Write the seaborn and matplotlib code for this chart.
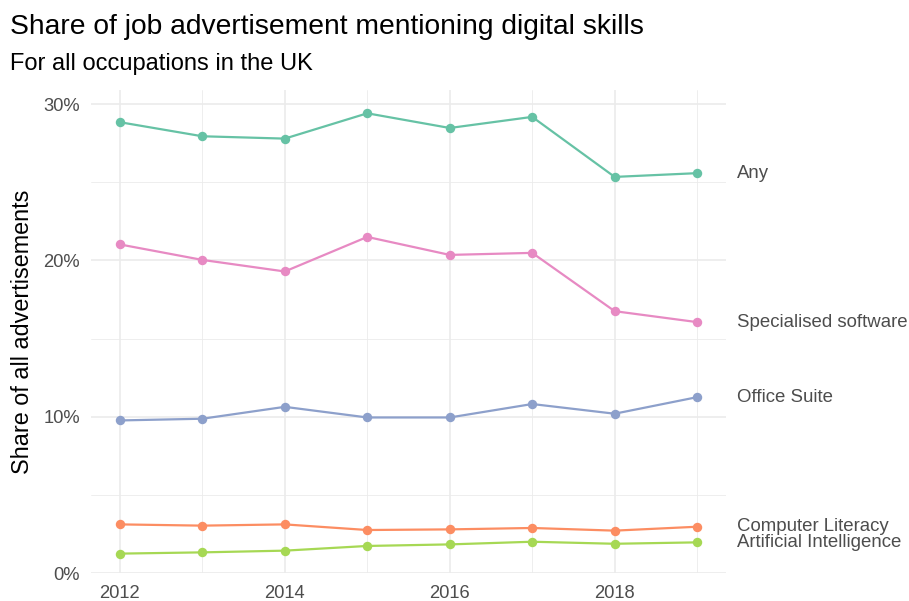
import matplotlib
matplotlib.use("Agg")
import matplotlib.pyplot as plt
import seaborn as sns
import pandas as pd
import numpy as np
from matplotlib.ticker import MultipleLocator, FuncFormatter

years = [2012, 2013, 2014, 2015, 2016, 2017, 2018, 2019]
any_skill = [28.84, 27.94, 27.79, 29.41, 28.47, 29.18, 25.34, 25.58]
specialised = [21.02, 20.03, 19.29, 21.50, 20.35, 20.48, 16.75, 16.05]
office = [9.76, 9.87, 10.63, 9.95, 9.95, 10.81, 10.19, 11.25]
computer_lit = [3.11, 3.03, 3.11, 2.75, 2.79, 2.88, 2.71, 2.96]
ai = [1.24, 1.32, 1.43, 1.73, 1.83, 2.00, 1.87, 1.96]

series_names = ["Any", "Specialised software", "Office Suite",
                "Computer Literacy", "Artificial Intelligence"]
series_values = [any_skill, specialised, office, computer_lit, ai]
colors = ["#66c2a5", "#e78ac3", "#8da0cb", "#fc8d62", "#a6d854"]

df = pd.DataFrame({
    "year": years * len(series_names),
    "share": [v for s in series_values for v in s],
    "skill": [n for n in series_names for _ in years],
})

sns.set_theme(style="white")
plt.rcParams["font.family"] = ["Liberation Sans", "DejaVu Sans"]

fig = plt.figure(figsize=(9.09, 6.01), dpi=100)
W, H = 909, 601
left, right, top, bottom = 91, 726, 90, 573
ax = fig.add_axes([left / W, 1 - bottom / H, (right - left) / W, (bottom - top) / H])

palette = dict(zip(series_names, colors))
sns.lineplot(data=df, x="year", y="share", hue="skill", palette=palette,
             hue_order=series_names, marker="o", markersize=6.8,
             markeredgewidth=0, linewidth=1.6, legend=False, ax=ax, zorder=3)

ax.set_xlim(2012 - 0.35, 2019 + 0.35)
ax.set_ylim(0, 30.9)
ax.xaxis.set_major_locator(MultipleLocator(2))
ax.xaxis.set_minor_locator(MultipleLocator(1))
ax.yaxis.set_major_locator(MultipleLocator(10))
ax.yaxis.set_minor_locator(MultipleLocator(5))
ax.yaxis.set_major_formatter(FuncFormatter(lambda v, p: f"{int(round(v))}%"))
ax.grid(which="major", color="#ebebeb", linewidth=1.2, zorder=0)
ax.grid(which="minor", color="#ebebeb", linewidth=0.6, zorder=0)
ax.set_axisbelow(True)
for sp in ax.spines.values():
    sp.set_visible(False)
ax.tick_params(which="both", length=0, labelsize=13.2, labelcolor="#4d4d4d")
ax.tick_params(axis="y", pad=8)
ax.tick_params(axis="x", pad=9)
ax.set_xlabel("")
ax.set_ylabel("Share of all advertisements", fontsize=16.8, color="black", labelpad=6.5)

for name, vals, c in zip(series_names, series_values, colors):
    ax.annotate(name, xy=(years[-1], vals[-1]), xytext=(40, 0),
                textcoords="offset pixels", ha="left", va="center",
                fontsize=13.4, color="#4d4d4d", annotation_clip=False)

fig.text(10 / W, 1 - 27 / H, "Share of job advertisement mentioning digital skills",
         fontsize=20.3, color="black", ha="left", va="center")
fig.text(10 / W, 1 - 64 / H, "For all occupations in the UK",
         fontsize=17, color="black", ha="left", va="center")

fig.savefig("out.png", dpi=100, facecolor="white")
